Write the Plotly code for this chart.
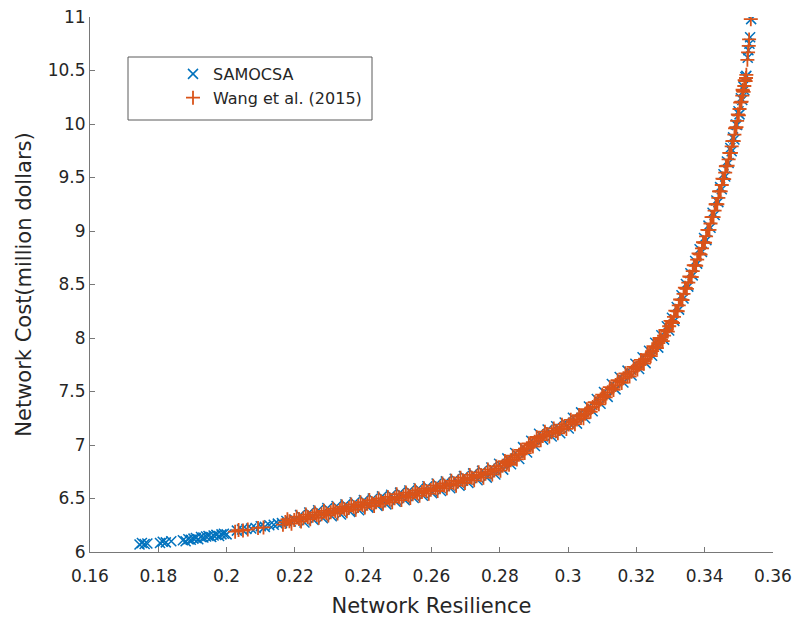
import plotly.graph_objects as go

# ---------------- data ----------------
samocsa_resilience = [
    0.1745, 0.1752, 0.1760, 0.1768, 0.1805, 0.1813, 0.1822, 0.1838,
    0.1872, 0.1880, 0.1888, 0.1895, 0.1903, 0.1910, 0.1917, 0.1925,
    0.1932, 0.1940, 0.1947, 0.1955, 0.1962, 0.1970, 0.1978, 0.1985,
    0.1992, 0.2000,
    0.2030, 0.2045, 0.2058, 0.2072, 0.2085, 0.2100, 0.2112, 0.2125,
    0.2138, 0.2150, 0.2162, 0.2175, 0.2188, 0.2200,
    0.2215, 0.2228, 0.2242, 0.2255, 0.2268, 0.2282, 0.2295, 0.2308,
    0.2322, 0.2335, 0.2348, 0.2362, 0.2375, 0.2388, 0.2402, 0.2415,
    0.2428, 0.2442, 0.2455, 0.2468, 0.2482, 0.2495, 0.2508, 0.2522,
    0.2535, 0.2548, 0.2562, 0.2575, 0.2588, 0.2602, 0.2615, 0.2628,
    0.2642, 0.2655, 0.2668, 0.2682, 0.2695, 0.2708, 0.2722, 0.2735,
    0.2748, 0.2762, 0.2775, 0.2787, 0.2798, 0.2810, 0.2822, 0.2833,
    0.2845, 0.2857, 0.2868, 0.2880, 0.2892, 0.2903, 0.2915, 0.2927,
    0.2940, 0.2952, 0.2965, 0.2977, 0.2990, 0.3002, 0.3014, 0.3026,
    0.3038, 0.3050, 0.3061, 0.3072, 0.3084, 0.3095, 0.3105, 0.3116,
    0.3128, 0.3139, 0.3151, 0.3162, 0.3174, 0.3186, 0.3197, 0.3208,
    0.3218, 0.3227, 0.3237, 0.3246, 0.3255, 0.3264, 0.3273, 0.3281,
    0.3289, 0.3296, 0.3304, 0.3311, 0.3318, 0.3325, 0.3332, 0.3338,
    0.3345, 0.3352, 0.3358, 0.3365, 0.3372, 0.3378, 0.3385, 0.3392,
    0.3398, 0.3405, 0.3411, 0.3417, 0.3423, 0.3429, 0.3434, 0.3440,
    0.3445, 0.3450, 0.3455, 0.3460, 0.3465, 0.3470, 0.3475, 0.3479,
    0.3483, 0.3487, 0.3491, 0.3495, 0.3499, 0.3502, 0.3506, 0.3510,
    0.3513, 0.3516, 0.3519, 0.3522, 0.3526, 0.3528, 0.3531, 0.3533,
    0.3536,
]
samocsa_cost = [
    6.070, 6.085, 6.075, 6.080, 6.085, 6.095, 6.090, 6.100,
    6.110, 6.100, 6.120, 6.115, 6.125, 6.130, 6.120, 6.140,
    6.135, 6.145, 6.150, 6.140, 6.155, 6.160, 6.150, 6.165,
    6.170, 6.165,
    6.200, 6.210, 6.215, 6.220, 6.225, 6.240, 6.235, 6.250,
    6.255, 6.265, 6.270, 6.290, 6.285, 6.300,
    6.345, 6.275, 6.370, 6.300, 6.390, 6.315, 6.410, 6.335,
    6.430, 6.350, 6.445, 6.375, 6.465, 6.390, 6.485, 6.415,
    6.500, 6.430, 6.520, 6.445, 6.535, 6.470, 6.555, 6.485,
    6.575, 6.505, 6.595, 6.525, 6.615, 6.550, 6.640, 6.570,
    6.660, 6.595, 6.685, 6.620, 6.710, 6.645, 6.735, 6.670,
    6.760, 6.695, 6.790, 6.725, 6.825, 6.770, 6.875, 6.820,
    6.925, 6.870, 6.980, 6.930, 7.040, 6.990, 7.105, 7.050,
    7.145, 7.080, 7.175, 7.110, 7.210, 7.155, 7.255, 7.200,
    7.305, 7.250, 7.360, 7.315, 7.430, 7.385, 7.495, 7.450,
    7.570, 7.520, 7.635, 7.585, 7.695, 7.650, 7.760, 7.710,
    7.820, 7.765, 7.880, 7.835, 7.955, 7.910, 8.025, 7.985,
    8.110, 8.070, 8.190, 8.160, 8.290, 8.265, 8.400, 8.370,
    8.505, 8.480, 8.605, 8.585, 8.720, 8.695, 8.830, 8.805,
    8.935, 8.915, 9.050, 9.030, 9.170, 9.150, 9.285, 9.270,
    9.410, 9.390, 9.530, 9.510, 9.650, 9.635, 9.775, 9.745,
    9.875, 9.855, 9.995, 9.990, 10.120, 10.090, 10.240, 10.225,
    10.350, 10.315, 10.440, 10.450, 10.620, 10.690, 10.750, 10.810,
    10.980,
]

wang_resilience = [
    0.2025, 0.2035, 0.2048, 0.2062, 0.2092, 0.2108,
    0.2165, 0.2178, 0.2190, 0.2205, 0.2218, 0.2232, 0.2245, 0.2258,
    0.2270, 0.2285, 0.2298, 0.2312, 0.2325, 0.2338, 0.2352, 0.2365,
    0.2378, 0.2392, 0.2405, 0.2418, 0.2432, 0.2445, 0.2458, 0.2472,
    0.2485, 0.2498, 0.2512, 0.2525, 0.2538, 0.2552, 0.2565, 0.2578,
    0.2592, 0.2605, 0.2618, 0.2632, 0.2645, 0.2658, 0.2672, 0.2685,
    0.2698, 0.2712, 0.2725, 0.2738, 0.2752, 0.2765, 0.2778, 0.2790,
    0.2802, 0.2815, 0.2827, 0.2838, 0.2850, 0.2862, 0.2873, 0.2885,
    0.2897, 0.2908, 0.2920, 0.2932, 0.2945, 0.2958, 0.2970, 0.2982,
    0.2995, 0.3008, 0.3020, 0.3032, 0.3045, 0.3055, 0.3066, 0.3078,
    0.3090, 0.3100, 0.3110, 0.3122, 0.3133, 0.3145, 0.3157, 0.3168,
    0.3180, 0.3192, 0.3203, 0.3213, 0.3222, 0.3232, 0.3242, 0.3250,
    0.3260, 0.3268, 0.3277, 0.3285, 0.3292, 0.3300, 0.3307, 0.3314,
    0.3321, 0.3328, 0.3335, 0.3342, 0.3348, 0.3355, 0.3362, 0.3368,
    0.3375, 0.3382, 0.3388, 0.3395, 0.3401, 0.3408, 0.3414, 0.3420,
    0.3426, 0.3432, 0.3437, 0.3442, 0.3447, 0.3452, 0.3457, 0.3462,
    0.3467, 0.3472, 0.3477, 0.3481, 0.3485, 0.3489, 0.3493, 0.3497,
    0.3500, 0.3504, 0.3508, 0.3511, 0.3514, 0.3517, 0.3520, 0.3522,
    0.3525, 0.3527, 0.3529, 0.3530, 0.3535,
    # second (denser) set of solutions along the front
    0.2172, 0.2184, 0.2198, 0.2212, 0.2225, 0.2238, 0.2252, 0.2264,
    0.2278, 0.2292, 0.2305, 0.2318, 0.2332, 0.2345, 0.2358, 0.2372,
    0.2385, 0.2398, 0.2412, 0.2425, 0.2438, 0.2452, 0.2465, 0.2478,
    0.2492, 0.2505, 0.2518, 0.2532, 0.2545, 0.2558, 0.2572, 0.2585,
    0.2598, 0.2612, 0.2625, 0.2638, 0.2652, 0.2665, 0.2678, 0.2692,
    0.2705, 0.2718, 0.2732, 0.2745, 0.2758, 0.2772, 0.2784, 0.2796,
    0.2808, 0.2821, 0.2832, 0.2844, 0.2856, 0.2868, 0.2879, 0.2891,
    0.2902, 0.2914, 0.2926, 0.2938, 0.2952, 0.2964, 0.2976, 0.2988,
    0.3002, 0.3014, 0.3026, 0.3038, 0.3050, 0.3060, 0.3072, 0.3084,
    0.3095, 0.3105, 0.3116, 0.3128, 0.3139, 0.3151, 0.3162, 0.3174,
    0.3186, 0.3198, 0.3208, 0.3218, 0.3227, 0.3237, 0.3246, 0.3255,
    0.3264, 0.3272, 0.3281, 0.3288, 0.3296, 0.3304, 0.3310, 0.3318,
    0.3324, 0.3332, 0.3338, 0.3345, 0.3352, 0.3358, 0.3365, 0.3372,
    0.3378, 0.3385, 0.3392, 0.3398, 0.3404, 0.3411, 0.3417, 0.3423,
    0.3429, 0.3434, 0.3440, 0.3444, 0.3450, 0.3454, 0.3460, 0.3464,
    0.3470, 0.3474, 0.3479, 0.3483, 0.3487, 0.3491, 0.3495, 0.3498,
    0.3502, 0.3506, 0.3510, 0.3512, 0.3516, 0.3518, 0.3521,
]
wang_cost = [
    6.190, 6.205, 6.200, 6.210, 6.225, 6.230,
    6.255, 6.305, 6.265, 6.330, 6.285, 6.350, 6.305, 6.370,
    6.320, 6.385, 6.340, 6.405, 6.360, 6.425, 6.380, 6.445,
    6.395, 6.465, 6.415, 6.485, 6.430, 6.500, 6.450, 6.515,
    6.465, 6.540, 6.485, 6.555, 6.505, 6.575, 6.525, 6.595,
    6.545, 6.620, 6.570, 6.640, 6.595, 6.665, 6.620, 6.695,
    6.645, 6.720, 6.670, 6.745, 6.695, 6.770, 6.725, 6.800,
    6.760, 6.850, 6.815, 6.900, 6.865, 6.955, 6.925, 7.015,
    6.985, 7.075, 7.045, 7.125, 7.080, 7.155, 7.110, 7.190,
    7.150, 7.235, 7.195, 7.280, 7.250, 7.335, 7.310, 7.400,
    7.380, 7.470, 7.445, 7.540, 7.515, 7.605, 7.580, 7.670,
    7.640, 7.730, 7.705, 7.795, 7.760, 7.850, 7.830, 7.925,
    7.905, 8.000, 7.970, 8.075, 8.060, 8.160, 8.140, 8.255,
    8.250, 8.360, 8.355, 8.470, 8.460, 8.575, 8.570, 8.680,
    8.675, 8.790, 8.780, 8.895, 8.890, 9.010, 9.010, 9.130,
    9.130, 9.250, 9.250, 9.370, 9.370, 9.490, 9.485, 9.605,
    9.610, 9.730, 9.730, 9.840, 9.840, 9.960, 9.970, 10.090,
    10.080, 10.200, 10.210, 10.320, 10.300, 10.410, 10.400, 10.460,
    10.600, 10.670, 10.730, 10.790, 10.980,
    # second (denser) set
    6.280, 6.288, 6.300, 6.308, 6.315, 6.328, 6.338, 6.345,
    6.352, 6.362, 6.372, 6.382, 6.392, 6.402, 6.412, 6.420,
    6.430, 6.440, 6.450, 6.458, 6.465, 6.475, 6.482, 6.490,
    6.502, 6.512, 6.520, 6.530, 6.540, 6.550, 6.560, 6.570,
    6.582, 6.595, 6.605, 6.618, 6.630, 6.642, 6.658, 6.670,
    6.682, 6.695, 6.708, 6.720, 6.732, 6.748, 6.762, 6.780,
    6.805, 6.832, 6.858, 6.882, 6.910, 6.940, 6.970, 7.000,
    7.030, 7.060, 7.085, 7.102, 7.118, 7.132, 7.150, 7.170,
    7.192, 7.215, 7.238, 7.265, 7.292, 7.322, 7.355, 7.390,
    7.425, 7.458, 7.492, 7.528, 7.560, 7.592, 7.625, 7.655,
    7.685, 7.718, 7.750, 7.778, 7.805, 7.840, 7.878, 7.915,
    7.952, 7.985, 8.022, 8.068, 8.110, 8.150, 8.198, 8.252,
    8.305, 8.358, 8.412, 8.465, 8.518, 8.572, 8.625, 8.678,
    8.732, 8.785, 8.838, 8.892, 8.950, 9.010, 9.070, 9.130,
    9.190, 9.250, 9.310, 9.370, 9.430, 9.488, 9.545, 9.608,
    9.670, 9.730, 9.790, 9.840, 9.900, 9.965, 10.030, 10.085,
    10.140, 10.205, 10.265, 10.310, 10.355, 10.405, 10.430,
]

x_tick_values = [0.16, 0.18, 0.20, 0.22, 0.24, 0.26, 0.28, 0.30, 0.32, 0.34, 0.36]
x_tick_labels = ["0.16", "0.18", "0.2", "0.22", "0.24", "0.26", "0.28", "0.3", "0.32", "0.34", "0.36"]
y_tick_values = [6, 6.5, 7, 7.5, 8, 8.5, 9, 9.5, 10, 10.5, 11]
y_tick_labels = ["6", "6.5", "7", "7.5", "8", "8.5", "9", "9.5", "10", "10.5", "11"]

series_names = ["SAMOCSA", "Wang et al. (2015)"]
x_title = "Network Resilience"
y_title = "Network Cost(million dollars)"

# ---------------- styling ----------------
BLUE = "rgb(0,114,189)"
ORANGE = "rgb(217,83,25)"
TEXT = "rgb(38,38,38)"
AXIS = "rgb(120,120,120)"
FONT = "DejaVu Sans"

fig = go.Figure()
fig.add_trace(go.Scatter(
    x=samocsa_resilience, y=samocsa_cost, mode="markers", name=series_names[0],
    marker=dict(symbol="x-thin-open", size=10, color=BLUE, line=dict(width=1.5, color=BLUE)),
))
fig.add_trace(go.Scatter(
    x=wang_resilience, y=wang_cost, mode="markers", name=series_names[1],
    marker=dict(symbol="cross-thin-open", size=10, color=ORANGE, line=dict(width=1.8, color=ORANGE)),
))

L, R, T, B = 90, 20, 17, 71
W, H = 793, 623
pw, ph = W - L - R, H - T - B


def px_x(p):
    return (p - L) / pw


def px_y(p):
    return (H - B - p) / ph


fig.update_layout(
    width=W, height=H,
    margin=dict(l=L, r=R, t=T, b=B, pad=0),
    paper_bgcolor="white", plot_bgcolor="white",
    font=dict(family=FONT, size=17, color=TEXT),
    showlegend=True,
    legend=dict(
        x=px_x(173), y=px_y(57), xanchor="left", yanchor="top",
        bgcolor="rgba(0,0,0,0)", borderwidth=0,
        font=dict(family=FONT, size=16, color=TEXT),
        itemwidth=30,
    ),
    shapes=[dict(
        type="rect", xref="paper", yref="paper",
        x0=px_x(128), x1=px_x(372), y0=px_y(120), y1=px_y(57),
        line=dict(color="rgb(90,90,90)", width=1), fillcolor="white", layer="below",
    )],
)
fig.update_xaxes(
    range=[0.16, 0.36], tickmode="array", tickvals=x_tick_values, ticktext=x_tick_labels,
    ticks="inside", ticklen=5, tickwidth=1, tickcolor=AXIS, ticklabelstandoff=9,
    showline=True, linecolor=AXIS, linewidth=1, mirror=False,
    showgrid=False, zeroline=False, automargin=False,
    tickfont=dict(family=FONT, size=17, color=TEXT),
    title=dict(text=x_title, font=dict(family=FONT, size=21, color=TEXT), standoff=12),
)
fig.update_yaxes(
    range=[6, 11], tickmode="array", tickvals=y_tick_values, ticktext=y_tick_labels,
    ticks="inside", ticklen=5, tickwidth=1, tickcolor=AXIS,
    showline=True, linecolor=AXIS, linewidth=1, mirror=False,
    showgrid=False, zeroline=False, automargin=False,
    tickfont=dict(family=FONT, size=17, color=TEXT),
    title=dict(text=y_title, font=dict(family=FONT, size=21, color=TEXT), standoff=10),
)

fig.write_html(
    "out.html",
    config={"displayModeBar": False},
    post_script="document.body.style.margin='0';document.body.style.overflow='hidden';",
)
